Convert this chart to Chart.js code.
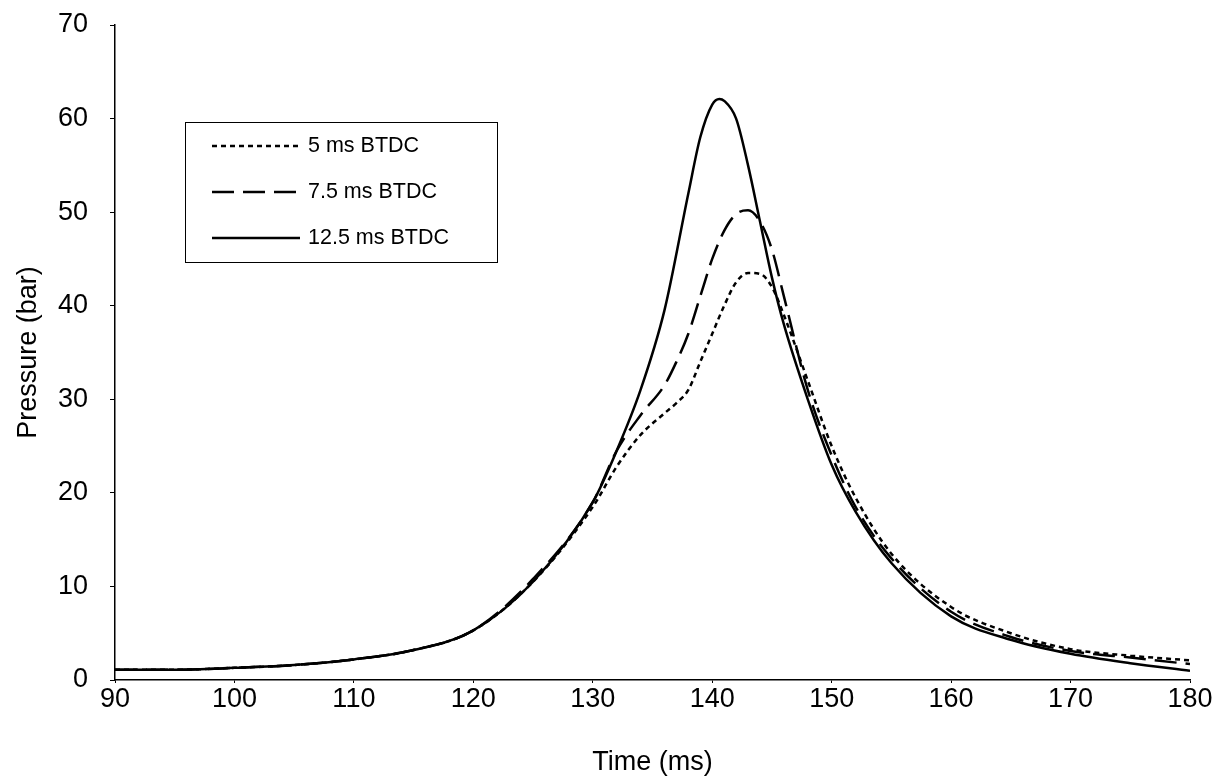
<!DOCTYPE html>
<html><head><meta charset="utf-8">
<script src="https://cdn.jsdelivr.net/npm/chart.js@4"></script>
<style>html,body{margin:0;padding:0;background:#fff}#wrap{width:1228px;height:783px}</style>
</head><body><div id="wrap"><canvas id="c"></canvas></div>
<script>
const t125 = [90,95,100,105,110,115,120,125,130,132,134,136,138,139,140,140.6,141,142,143,144,145,146,148,150,152,155,160,165,170,175,180];
const p125 = [1.1,1.1,1.3,1.6,2.2,3.2,5.3,10.5,19,24.5,31,39.5,52,58,61.5,62.1,61.9,60,55,49,43,38,30,23,18,12.5,6.8,4.3,2.8,1.8,1.0];
const t75 = [90,95,100,105,110,115,120,125,130,132,134,136,137,138,139,140,141,142,143,144,145,146,148,150,152,155,160,165,170,175,180];
const p75 = [1.1,1.1,1.3,1.6,2.2,3.2,5.3,10.8,19,24.5,28.3,31.5,34,37,41,45,48,49.8,50.2,49,46,41,31,24,18.5,13,7.3,4.6,3.1,2.4,1.7];
const t5 = [90,95,100,105,110,115,120,125,130,132,134,136,137,138,139,140,141,142,143,144,145,146,148,150,152,155,160,165,170,175,180];
const p5 = [1.1,1.1,1.3,1.6,2.2,3.2,5.3,10.5,18.5,22.8,26.2,28.5,29.6,31,34,37,40,42.5,43.5,43.4,42,39,32,25,19.5,13.5,7.8,5,3.3,2.6,2.1];
const xTicks = [90,100,110,120,130,140,150,160,170,180];
const yTicks = [0,10,20,30,40,50,60,70];
const names = ['5 ms BTDC','7.5 ms BTDC','12.5 ms BTDC'];
const dashes = [[5,4],[22,9],[]];
const pts = (t,p)=>t.map((x,i)=>({x:x,y:p[i]}));
const F = '"Liberation Sans", Arial, sans-serif';
const legendPlugin = {id:'lg', afterDraw(ch){
  const c=ch.ctx; c.save();
  c.strokeStyle='#000'; c.lineWidth=1; c.strokeRect(185.5,122.5,312,140);
  c.font='21.5px '+F; c.fillStyle='#000'; c.textBaseline='middle';
  names.forEach((n,i)=>{const y=146+i*46; c.setLineDash(dashes[i]); c.lineWidth=2.5;
    c.beginPath(); c.moveTo(212,y); c.lineTo(300,y); c.stroke(); c.setLineDash([]);
    c.fillText(n,308,y);});
  c.restore();}};
new Chart(document.getElementById('c'),{type:'scatter',
 data:{datasets:[
  {data:pts(t5,p5),borderDash:dashes[0]},
  {data:pts(t75,p75),borderDash:dashes[1]},
  {data:pts(t125,p125),borderDash:dashes[2]}
 ].map(d=>Object.assign(d,{showLine:true,borderColor:'#000',borderWidth:2.5,pointRadius:0,tension:0.4,cubicInterpolationMode:'monotone'}))},
 options:{responsive:true,maintainAspectRatio:false,animation:false,
  layout:{padding:{top:25,right:38,left:8,bottom:0}},
  plugins:{legend:{display:false},tooltip:{enabled:false}},
  scales:{
   x:{type:'linear',min:90,max:180,afterBuildTicks:a=>{a.ticks=xTicks.map(v=>({value:v}))},
      afterFit:s=>{s.height=103;s.paddingLeft=0;s.paddingRight=0},
      grid:{drawOnChartArea:false,color:'#000',tickLength:3},border:{color:'#000',width:1.5},
      ticks:{color:'#000',font:{size:27,family:F},padding:0,maxRotation:0},
      title:{display:true,text:'Time (ms)',color:'#000',font:{size:27,family:F},padding:{top:0}}},
   y:{min:0,max:70,afterBuildTicks:a=>{a.ticks=yTicks.map(v=>({value:v}))},
      afterFit:s=>{s.width=107;s.paddingTop=0;s.paddingBottom=0},
      grid:{drawOnChartArea:false,color:'#000',tickLength:5},border:{color:'#000',width:1.5},
      ticks:{color:'#000',font:{size:27,family:F},padding:22},
      title:{display:true,text:'Pressure (bar)',color:'#000',font:{size:27,family:F},padding:{bottom:0}}}
  }},
 plugins:[legendPlugin]});
</script></body></html>
